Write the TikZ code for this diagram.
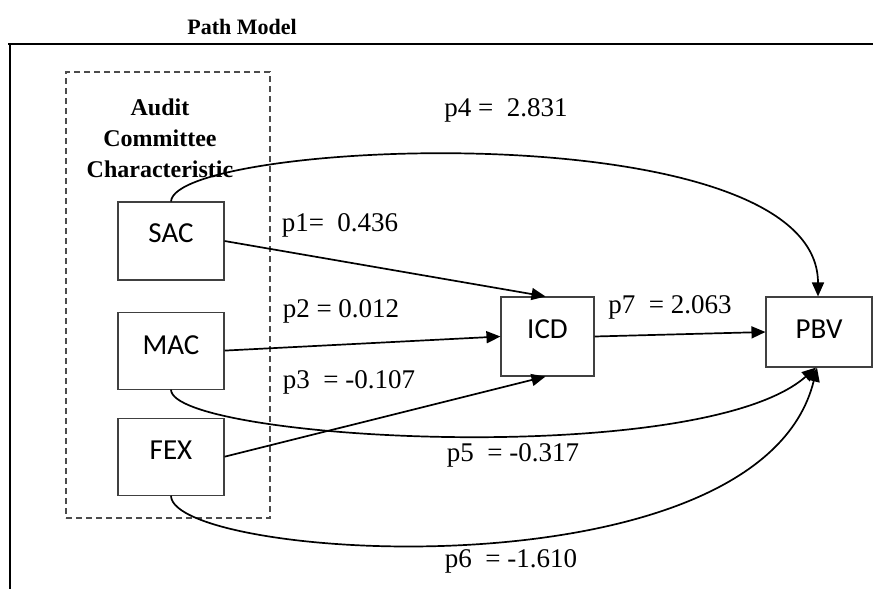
\documentclass[tikz,border=0pt]{standalone}
\usepackage{fontspec}
\setmainfont{Liberation Serif}
\newfontfamily\boxfont{Carlito}
\usetikzlibrary{arrows.meta, positioning}

\begin{document}
\begin{tikzpicture}[
		x=1pt, y=-1pt,
		node distance=30pt and 40pt,
		var/.style={draw=black!75, line width=1.1pt, rectangle, minimum width=106pt, minimum height=77pt,
			inner sep=0pt, font=\boxfont\fontsize{29}{32}\selectfont, text height=20pt, text depth=14pt},
		coef/.style={font=\fontsize{27}{30}\selectfont, inner sep=0pt},
		arrow/.style={-{Triangle[length=14pt, width=12pt]}, line width=1.7pt}
		]
		\useasboundingbox (0,0) rectangle (873,589);

		% Frame and title
		\draw[line width=2.4pt] (8,44) -- (873,44);
		\draw[line width=2.6pt] (10,43) -- (10,589);
		\node[font=\bfseries\fontsize{22}{26}\selectfont] (title) at (242,27) {Path Model};

		% Group
		\node[draw=black!70, dashed, line width=1.4pt, dash pattern=on 6pt off 4pt,
			minimum width=204pt, minimum height=446pt] (grp) at (168,295) {};
		\node[align=center, font=\bfseries\fontsize{24}{31}\selectfont] (acc) at (160,138)
			{Audit\\Committee\\Characteristic};

		% Nodes
		\node[var, minimum height=78pt, text depth=18pt] (sac) at (171,241) {SAC};
		\node[var, text depth=13pt] (mac) [below=31pt of sac] {MAC};
		\node[var, text depth=15pt] (fex) [below=28pt of mac] {FEX};
		\node[var, minimum width=93pt, minimum height=79pt, text depth=17pt] (icd) at (547.5,336.5) {ICD};
		\node[var, minimum height=70pt, text depth=8pt] (pbv) at (819,332) {PBV};

		% Arrows
		\draw[arrow] (sac.east) -- ([xshift=-2pt]icd.north);
		\draw[arrow] (mac.east) -- (icd.west);
		\draw[arrow] (fex.east) -- ([xshift=-2pt]icd.south);
		\draw[arrow] (icd.east) -- (pbv.west);
		\draw[arrow] (sac.north) .. controls (175,140) and (818,110) .. ([xshift=-1pt]pbv.north);
		\draw[arrow] (mac.south) .. controls (172,440) and (700,470) .. ([xshift=-3pt]pbv.south);
		\draw[arrow] (fex.south) .. controls (172,560) and (760,600) .. ([xshift=-2pt]pbv.south);

		% Coefficients
		\node[coef] (c4) at (506,110) {p4 = \ 2.831};
		\node[coef] (c1) at (340,225) {p1= \ 0.436};
		\node[coef] (c2) at (341,311) {p2 = 0.012};
		\node[coef] (c3) at (349,382) {p3 \ = -0.107};
		\node[coef] (c7) at (670,307) {p7 \ = 2.063};
		\node[coef] (c5) at (513,455) {p5 \ = -0.317};
		\node[coef] (c6) at (511,561) {p6 \ = -1.610};

	\end{tikzpicture}
\end{document}
